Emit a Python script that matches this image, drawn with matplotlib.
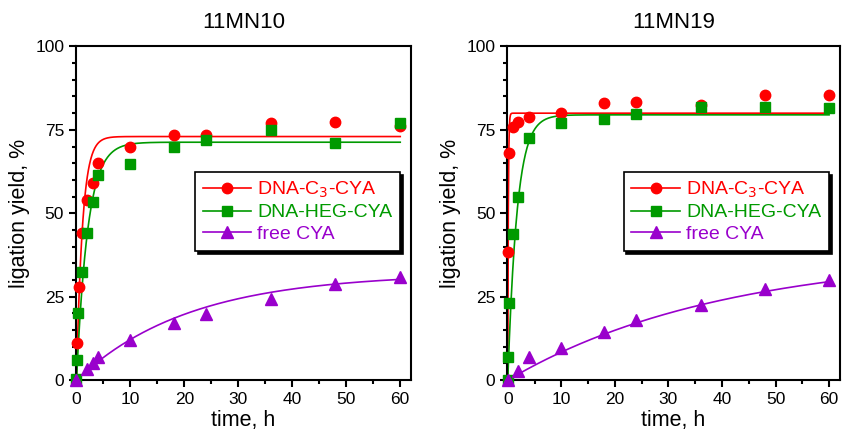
import numpy as np
import matplotlib
matplotlib.use('Agg')
import matplotlib.pyplot as plt
from matplotlib.lines import Line2D
from matplotlib.ticker import MultipleLocator

plt.rcParams['font.family'] = ['Liberation Sans', 'DejaVu Sans']

# 11MN10 data
t_c3_a = [0.083, 0.5, 1, 2, 3, 4, 10, 18, 24, 36, 48, 60]
y_c3_a = [11, 28, 44, 54, 59, 65, 70, 73.6, 73.5, 77, 77.5, 76.3]
t_heg_a = [0, 0.083, 0.33, 1, 2, 3, 4, 10, 18, 24, 36, 48, 60]
y_heg_a = [0.5, 6, 20, 32.3, 44, 53.5, 61.5, 64.8, 69.8, 72, 75, 71, 77]
t_free_a = [0, 2, 3, 4, 10, 18, 24, 36, 48, 60]
y_free_a = [0, 3.5, 5, 7, 12, 17.2, 19.8, 24.2, 28.8, 30.8]

# 11MN19 data
t_c3_b = [0.083, 0.25, 1, 2, 4, 10, 18, 24, 36, 48, 60]
y_c3_b = [38.5, 68, 76, 77.5, 79, 80, 83, 83.3, 82.5, 85.5, 85.5]
t_heg_b = [0, 0.083, 0.25, 1, 2, 4, 10, 18, 24, 36, 48, 60]
y_heg_b = [0, 7, 23, 43.7, 55, 72.5, 77, 78.3, 79.8, 82, 82, 81.5]
t_free_b = [0, 2, 4, 10, 18, 24, 36, 48, 60]
y_free_b = [0, 2.8, 6.8, 9.5, 14.5, 18, 22.5, 27.2, 30]

# first-order fit parameters (plateau, rate constant 1/h)
fit_a = {'c3': (73, 0.9), 'heg': (71.3, 0.48), 'free': (32, 0.048)}
fit_b = {'c3': (80, 10), 'heg': (79.5, 0.58), 'free': (38, 0.025)}

titles = ['11MN10', '11MN19']
labels = ['DNA-C$_3$-CYA', 'DNA-HEG-CYA', 'free CYA']
colors = ['#ff0000', '#009a00', '#9900cc']
markers = ['o', 's', '^']
msizes = [7.5, 7.5, 9]

fig = plt.figure(figsize=(8.44, 4.38), dpi=100)
ax1 = fig.add_axes([0.090, 0.132, 0.397, 0.762])
ax2 = fig.add_axes([0.601, 0.132, 0.394, 0.762])

tt = np.linspace(0, 60, 1201)

panels = [
    (ax1, [(t_c3_a, y_c3_a), (t_heg_a, y_heg_a), (t_free_a, y_free_a)], fit_a),
    (ax2, [(t_c3_b, y_c3_b), (t_heg_b, y_heg_b), (t_free_b, y_free_b)], fit_b),
]

for i, (ax, series, fit) in enumerate(panels):
    for (t, y), key, c, m, ms in zip(series, ['c3', 'heg', 'free'], colors, markers, msizes):
        A, k = fit[key]
        ax.plot(tt, A * (1 - np.exp(-k * tt)), color=c, lw=1.2, zorder=2)
        ax.plot(t, y, ls='none', marker=m, ms=ms, color=c, mec=c, clip_on=False, zorder=3)
    ax.set_xlim(-0.1, 62)
    ax.set_ylim(0, 100)
    ax.xaxis.set_major_locator(MultipleLocator(10))
    ax.xaxis.set_minor_locator(MultipleLocator(5))
    ax.yaxis.set_major_locator(MultipleLocator(25))
    ax.yaxis.set_minor_locator(MultipleLocator(5))
    ax.tick_params(which='major', direction='out', length=5, width=1.5, labelsize=12.5)
    ax.tick_params(which='minor', direction='out', length=3, width=1.5)
    for s in ax.spines.values():
        s.set_linewidth(1.5)
    ax.set_title(titles[i], fontsize=16, pad=13)
    ax.set_xlabel('time, h', fontsize=15.5, labelpad=2)
    ax.set_ylabel('ligation yield, %', fontsize=15.5, labelpad=4)

    handles = [Line2D([], [], color=c, lw=1.2, marker=m, ms=ms, mec=c)
               for c, m, ms in zip(colors, markers, msizes)]
    leg = ax.legend(handles, labels, loc='upper right', bbox_to_anchor=(0.967, 0.624),
                    borderaxespad=0, fontsize=14, handlelength=2.5, handletextpad=0.3,
                    labelspacing=0.2, borderpad=0.4, fancybox=False,
                    shadow={'facecolor': 'black', 'edgecolor': 'black', 'alpha': 1})
    leg.get_frame().set_edgecolor('black')
    leg.get_frame().set_linewidth(1.2)
    for txt, c in zip(leg.get_texts(), colors):
        txt.set_color(c)

fig.savefig('out.png', dpi=100)
